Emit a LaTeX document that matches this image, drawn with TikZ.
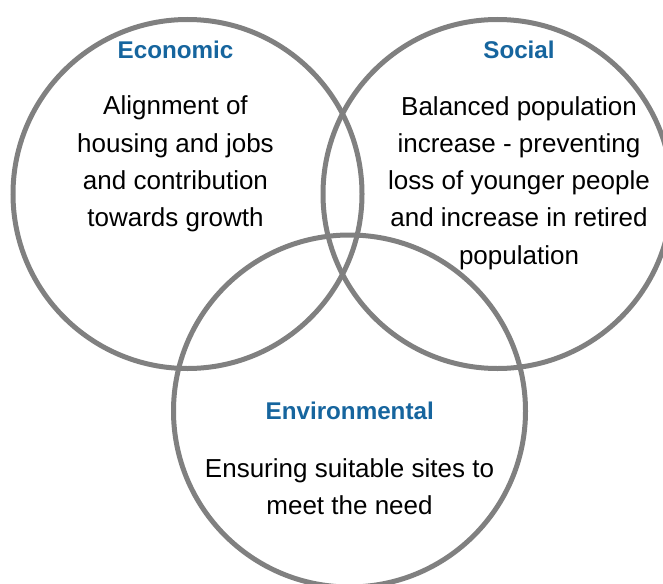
\documentclass[tikz,border=0pt]{standalone}
\usepackage{fontspec}
\setmainfont{Liberation Sans}
\definecolor{ringgray}{RGB}{128,128,128}
\definecolor{headblue}{RGB}{22,101,158}
\tikzset{
  ring/.style={draw=ringgray, line width=5pt},
  heading/.style={font=\bfseries\fontsize{24.2}{29}\selectfont, text=headblue, inner sep=0pt},
  body/.style={font=\fontsize{26}{37.2}\selectfont, align=center, inner sep=0pt, text=black}
}
\begin{document}
\begin{tikzpicture}[x=1pt,y=-1pt]
\useasboundingbox (0,0) rectangle (663,583);
\begin{scope}
\clip (0,0) rectangle (663,583);
\draw[ring] (187.5,194) circle[radius=174.5];
\draw[ring] (497.5,194) circle[radius=174.5];
\draw[ring] (349.5,411) circle[radius=176];
\end{scope}
\node[heading] (ecoh) at (175.5,50) {Economic};
\node[heading] (soch) at (519,50) {Social};
\node[heading] (envh) at (349.7,411) {Environmental};
\node[body] (ecob) at (175.5,164) {Alignment of\\housing and jobs\\and contribution\\towards growth};
\node[body] (socb) at (519,183) {Balanced population\\increase - preventing\\loss of younger people\\and increase in retired\\population};
\node[body] (envb) at (349.5,487) {Ensuring suitable sites to\\meet the need};
\end{tikzpicture}
\end{document}
